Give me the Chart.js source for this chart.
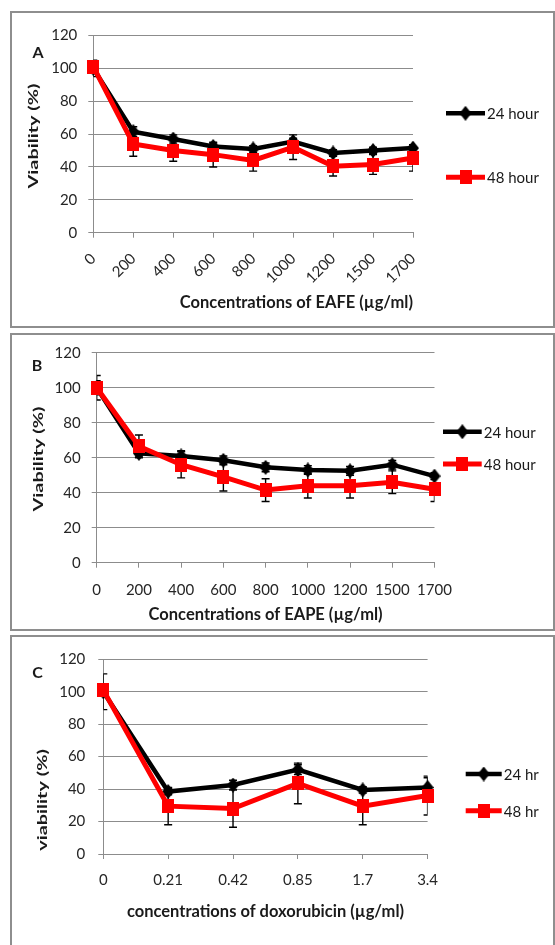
<!DOCTYPE html>
<html>
<head>
<meta charset="utf-8">
<script src="https://cdn.jsdelivr.net/npm/chart.js@4.4.1/dist/chart.umd.min.js"></script>
<style>
  body { margin: 0; background: #fff; }
  #page { position: relative; width: 555px; height: 945px; overflow: hidden; background: #fff; }
  canvas { position: absolute; left: 0; }
  .frame { position: absolute; border: 2px solid #8e8e8e; box-sizing: border-box; pointer-events: none; }
</style>
</head>
<body>
<div id="page">
  <canvas id="chartA" width="555" height="330" style="top:0px"></canvas>
  <canvas id="chartB" width="555" height="303" style="top:330px"></canvas>
  <canvas id="chartC" width="555" height="312" style="top:633px"></canvas>
  <div class="frame" style="left:10px;top:11px;width:545px;height:317px"></div>
  <div class="frame" style="left:10px;top:333px;width:545px;height:298px"></div>
  <div class="frame" style="left:10px;top:635px;width:545px;height:320px"></div>
</div>
<script>
// panel A - EAFE
const eafeLabels = ['0', '200', '400', '600', '800', '1000', '1200', '1500', '1700'];
const eafe24 = [100, 61.5, 57, 52.5, 51, 55.5, 48.5, 50, 51.5];
const eafe48 = [101, 54, 50, 47.5, 44, 52, 40.5, 41.5, 45.5];
const eafe24Err = [5, 3, 2.5, 2, 2, 2, 2, 2, 2];
const eafe48Err = [2, 7.5, 6.5, 7.5, 6.5, 7.5, 6, 6, 8];

// panel B - EAPE
const eapeLabels = ['0', '200', '400', '600', '800', '1000', '1200', '1500', '1700'];
const eape24 = [100, 62.5, 61, 58.5, 54.5, 53, 52.5, 56, 49.5];
const eape48 = [100, 66.5, 56, 49, 41.5, 44, 44, 46, 42];
const eape24Err = [7, 2, 3, 2.5, 2.5, 2.5, 2.5, 2.5, 2];
const eape48Err = [4, 6.5, 7.5, 8, 6.5, 7, 7, 6.5, 7];

// panel C - doxorubicin
const doxoLabels = ['0', '0.21', '0.42', '0.85', '1.7', '3.4'];
const doxo24 = [100, 38.5, 42.5, 52, 39.5, 41];
const doxo48 = [101, 29.5, 28, 43.5, 29.5, 36];
const doxo24Err = [11, 2, 3, 3, 2, 6];
const doxo48Err = [2, 11.5, 11.5, 12.5, 11.5, 12];

const yMin = 0, yMax = 120, yStep = 20;

const FONT = 'Lato, "Open Sans", sans-serif';
const GRID = '#8c8c8c';
const TITLE_SIZE = 16.5;
const Y_TITLE_SIZE = 13.5;
const Y_TITLE_STRETCH = 1.47; // vertical text in the source is long and narrow

// marker images (slightly taller than wide, like the source)
function markerImage(kind, color, w, h) {
    const c = document.createElement('canvas');
    c.width = w; c.height = h;
    const g = c.getContext('2d');
    g.fillStyle = color;
    g.beginPath();
    if (kind === 'diamond') {
        g.moveTo(w / 2, 0); g.lineTo(w, h / 2); g.lineTo(w / 2, h); g.lineTo(0, h / 2);
    } else {
        g.rect(0, 0, w, h);
    }
    g.closePath();
    g.fill();
    return c;
}
const diamondBlack = markerImage('diamond', '#000000', 12, 15);
const squareRed = markerImage('square', '#ff0000', 12, 14);

// vertical error bars, clipped to the plot area like Excel does
const errorBars = {
    id: 'errorBars',
    beforeDatasetsDraw(chart) {
        const { ctx, chartArea, scales: { x, y } } = chart;
        ctx.save();
        ctx.beginPath();
        ctx.rect(chartArea.left, chartArea.top, chartArea.right - chartArea.left, chartArea.bottom - chartArea.top);
        ctx.clip();
        ctx.strokeStyle = '#000';
        ctx.lineWidth = 1.4;
        chart.data.datasets.forEach(ds => {
            ds.errors.forEach((e, j) => {
                const px = x.getPixelForValue(j);
                const hi = y.getPixelForValue(ds.data[j] + e);
                const lo = y.getPixelForValue(ds.data[j] - e);
                ctx.beginPath();
                ctx.moveTo(px, hi); ctx.lineTo(px, lo);
                ctx.moveTo(px - 4, hi); ctx.lineTo(px + 4, hi);
                ctx.moveTo(px - 4, lo); ctx.lineTo(px + 4, lo);
                ctx.stroke();
            });
        });
        ctx.restore();
    }
};

function makePanel(id, o) {
    const extras = {
        id: 'extras',
        afterDraw(chart) {
            const ctx = chart.ctx;
            ctx.save();
            ctx.fillStyle = '#1a1a1a';
            ctx.font = 'bold 16px ' + FONT;
            ctx.textAlign = 'center';
            ctx.textBaseline = 'middle';
            ctx.fillText(o.letter, o.letterPos[0], o.letterPos[1]);

            // y axis title, rotated and stretched along its length
            ctx.save();
            ctx.translate(o.yTitlePos[0], o.yTitlePos[1]);
            ctx.rotate(-Math.PI / 2);
            ctx.scale(Y_TITLE_STRETCH, 1);
            ctx.font = 'bold ' + Y_TITLE_SIZE + 'px ' + FONT;
            ctx.fillText(o.yTitle, 0, 0);
            ctx.restore();

            // legend: line with marker, text on the right
            ctx.font = '15px ' + FONT;
            ctx.textAlign = 'left';
            chart.data.datasets.forEach((ds, i) => {
                const y = o.legend.y[i];
                const mx = (o.legend.x0 + o.legend.x1) / 2;
                ctx.strokeStyle = ds.borderColor;
                ctx.lineWidth = ds.borderWidth;
                ctx.beginPath();
                ctx.moveTo(o.legend.x0, y);
                ctx.lineTo(o.legend.x1, y);
                ctx.stroke();
                const img = ds.pointStyle;
                ctx.drawImage(img, mx - img.width / 2, y - img.height / 2);
                ctx.fillStyle = '#1a1a1a';
                ctx.fillText(ds.label, o.legend.x1 + 2, y + 1);
            });
            ctx.restore();
        }
    };

    const xAxisH = o.xTitleY + TITLE_SIZE * 1.2 / 2 - o.area.bottom;

    return new Chart(document.getElementById(id), {
        type: 'line',
        data: {
            labels: o.labels,
            datasets: [{
                label: o.names[0],
                data: o.s24,
                errors: o.e24,
                borderColor: '#000000',
                backgroundColor: '#000000',
                borderWidth: 4.5,
                pointStyle: diamondBlack,
                tension: 0,
                order: 1
            }, {
                label: o.names[1],
                data: o.s48,
                errors: o.e48,
                borderColor: '#ff0000',
                backgroundColor: '#ff0000',
                borderWidth: 5,
                pointStyle: squareRed,
                tension: 0,
                order: 0
            }]
        },
        options: {
            responsive: false,
            animation: false,
            events: [],
            layout: {
                padding: {
                    left: 0,
                    top: o.area.top,
                    right: 555 - o.area.right,
                    bottom: o.h - o.area.bottom - xAxisH
                }
            },
            plugins: {
                legend: { display: false },
                tooltip: { enabled: false }
            },
            scales: {
                x: {
                    offset: false,
                    grid: { drawOnChartArea: false, color: GRID, tickLength: 5 },
                    border: { color: GRID, width: 1 },
                    ticks: {
                        autoSkip: false,
                        maxRotation: o.rot,
                        minRotation: o.rot,
                        padding: o.xTickPad,
                        color: '#262626',
                        font: { family: FONT, size: 15 }
                    },
                    title: {
                        display: true,
                        text: o.xTitle,
                        align: o.xTitleAlign,
                        color: '#1a1a1a',
                        padding: { top: 0, bottom: 0 },
                        font: { family: FONT, size: TITLE_SIZE, weight: 'bold' }
                    },
                    afterFit: s => { s.height = xAxisH; }
                },
                y: {
                    min: yMin,
                    max: yMax,
                    grid: { color: GRID, tickLength: 5 },
                    border: { color: GRID, width: 1 },
                    ticks: {
                        stepSize: yStep,
                        padding: o.yTickPad,
                        color: '#262626',
                        font: { family: FONT, size: 15 }
                    },
                    afterFit: s => { s.width = o.area.left; }
                }
            }
        },
        plugins: [errorBars, extras]
    });
}

makePanel('chartA', {
    labels: eafeLabels, s24: eafe24, s48: eafe48, e24: eafe24Err, e48: eafe48Err,
    names: ['24 hour', '48 hour'],
    xTitle: 'Concentrations of EAFE (µg/ml)', xTitleAlign: 'end', xTitleY: 303,
    yTitle: 'Viability (%)', yTitlePos: [34, 136],
    letter: 'A', letterPos: [38, 53],
    h: 330, area: { left: 93.3, right: 413, top: 35.5, bottom: 232.7 },
    rot: 45, xTickPad: 12, yTickPad: 11,
    legend: { x0: 446, x1: 485, y: [113.3, 177.3] }
});

makePanel('chartB', {
    labels: eapeLabels, s24: eape24, s48: eape48, e24: eape24Err, e48: eape48Err,
    names: ['24 hour', '48 hour'],
    xTitle: 'Concentrations of EAPE (µg/ml)', xTitleAlign: 'center', xTitleY: 285,
    yTitle: 'Viability (%)', yTitlePos: [39, 129],
    letter: 'B', letterPos: [37, 36],
    h: 303, area: { left: 96.7, right: 434.5, top: 22.7, bottom: 232.7 },
    rot: 0, xTickPad: 13.5, yTickPad: 11,
    legend: { x0: 443, x1: 481.7, y: [101.7, 134] }
});

makePanel('chartC', {
    labels: doxoLabels, s24: doxo24, s48: doxo48, e24: doxo24Err, e48: doxo48Err,
    names: ['24 hr', '48 hr'],
    xTitle: 'concentrations of doxorubicin (µg/ml)', xTitleAlign: 'center', xTitleY: 278.7,
    yTitle: 'viability (%)', yTitlePos: [43, 167],
    letter: 'C', letterPos: [37.5, 39.5],
    h: 312, area: { left: 103.3, right: 427.6, top: 26.3, bottom: 221 },
    rot: 0, xTickPad: 12.3, yTickPad: 13,
    legend: { x0: 465.7, x1: 501.7, y: [141, 177.7] }
});
</script>
</body>
</html>
